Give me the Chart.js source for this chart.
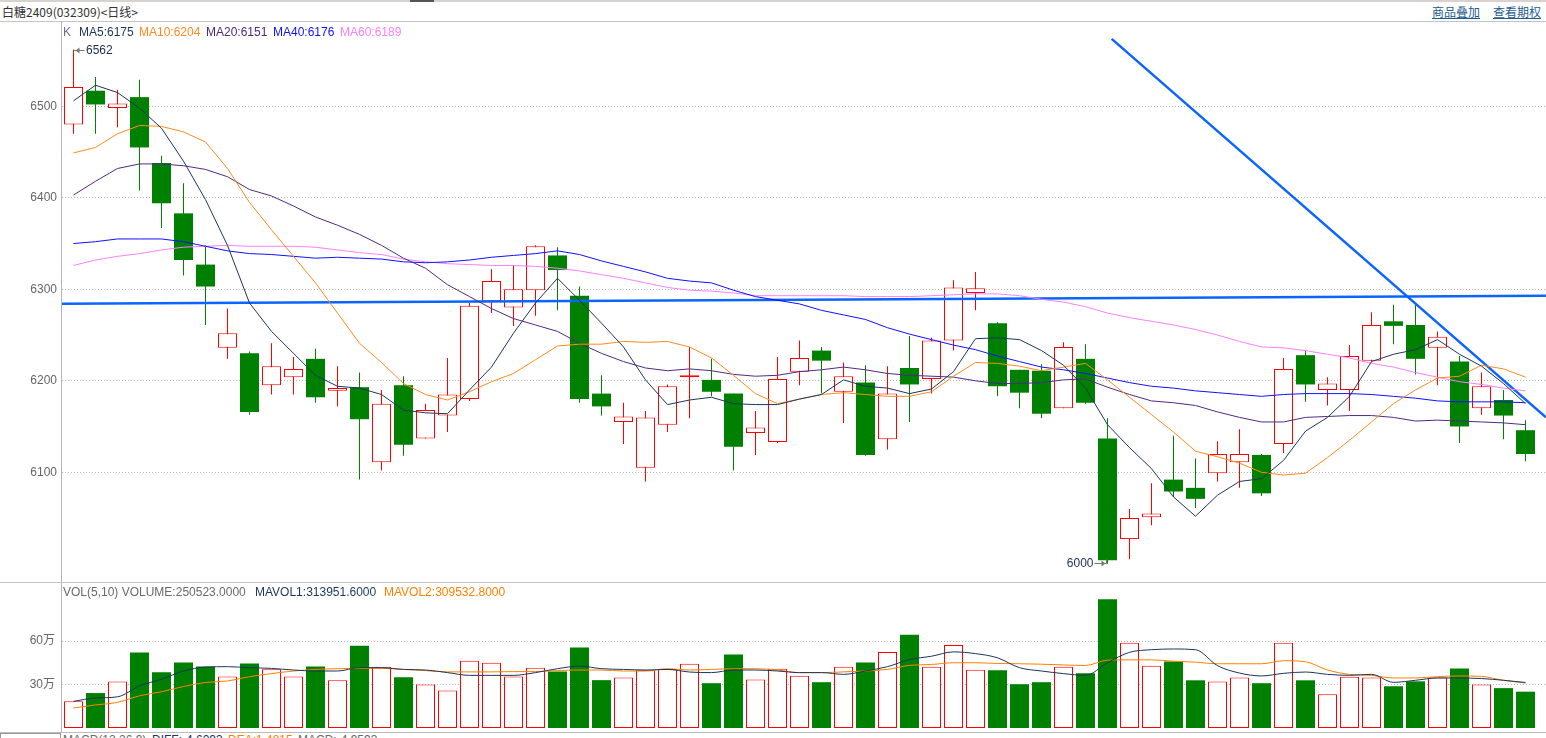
<!DOCTYPE html>
<html>
<head>
<meta charset="utf-8">
<title>白糖2409 日线</title>
<script src="https://cdn.jsdelivr.net/npm/chart.js@4.4.1/dist/chart.umd.min.js"></script>
<style>
html, body { margin: 0; padding: 0; background: #fff; }
body { width: 1546px; height: 738px; overflow: hidden; position: relative;
       font-family: "Liberation Sans", Arial, sans-serif; font-size: 12px; }
.txt { position: absolute; white-space: nowrap; line-height: 14px; }
.hline { position: absolute; left: 0; width: 1546px; height: 1px; background: #c4c4c4; z-index: 5; }
.link { color: #1f5c8f; text-decoration: underline; font-family: "Noto Sans CJK SC", sans-serif; }
canvas { position: absolute; left: 0; }
</style>
</head>
<body>

<!-- header -->
<div class="hline" style="top:0;height:2px;background:#d6d3ce"></div>
<div style="position:absolute;top:0;left:410px;width:24px;height:2px;background:#555;z-index:6"></div>
<div class="txt" style="left:2px;top:5px;color:#333;font-family:'Noto Sans CJK SC',sans-serif">白糖2409(032309)&lt;日线&gt;</div>
<div class="txt link" style="left:1432px;top:5px">商品叠加</div>
<div class="txt link" style="left:1493px;top:5px">查看期权</div>
<div class="hline" style="top:21px"></div>

<!-- charts -->
<canvas id="kChart" width="1546" height="559" style="top:22px"></canvas>
<canvas id="volChart" width="1546" height="145" style="top:583px"></canvas>

<!-- MA legend -->
<div class="txt" style="left:63px;top:25px;color:#66708a">K</div>
<div class="txt" style="left:79px;top:25px;color:#1c355e">MA5:6175</div>
<div class="txt" style="left:139px;top:25px;color:#ff8a1e">MA10:6204</div>
<div class="txt" style="left:206px;top:25px;color:#4a2a80">MA20:6151</div>
<div class="txt" style="left:273px;top:25px;color:#1010ff">MA40:6176</div>
<div class="txt" style="left:340px;top:25px;color:#ff7fff">MA60:6189</div>

<!-- panel borders -->
<div style="position:absolute;left:61px;top:22px;width:1px;height:710px;background:#b4b4b4;z-index:5"></div>
<div class="hline" style="top:582px"></div>
<div class="hline" style="top:732px;background:#bbb"></div>
<div style="position:absolute;left:0;top:733px;width:59px;height:10px;border:1px solid #999;z-index:5"></div>

<!-- volume legend -->
<div class="txt" style="left:63px;top:585px;color:#6a6a6a">VOL(5,10) VOLUME:250523.0000</div>
<div class="txt" style="left:255px;top:585px;color:#1c355e">MAVOL1:313951.6000</div>
<div class="txt" style="left:384px;top:585px;color:#ff8000">MAVOL2:309532.8000</div>

<!-- next panel legend, cut by the window -->
<div class="txt" style="left:63px;top:733px;color:#6a6a6a">MACD(12,26,9)</div>
<div class="txt" style="left:152px;top:733px;color:#1c355e">DIFF:-4.6093</div>
<div class="txt" style="left:228px;top:733px;color:#ff8000">DEA:1.4815</div>
<div class="txt" style="left:298px;top:733px;color:#6a6a6a">MACD:-4.9593</div>

<script>
// daily OHLC, oldest first
const opens = [6480, 6517, 6498, 6510, 6438, 6383, 6327, 6236, 6230, 6195,
               6204, 6224, 6189, 6193, 6111, 6195, 6137, 6162, 6180, 6287,
               6280, 6299, 6337, 6293, 6186, 6155, 6105, 6152, 6204, 6201,
               6186, 6143, 6133, 6210, 6233, 6188, 6198, 6136, 6214, 6202,
               6244, 6296, 6263, 6212, 6211, 6170, 6224, 6137, 6027, 6051,
               6092, 6083, 6099, 6111, 6119, 6131, 6228, 6190, 6190, 6222,
               6265, 6261, 6236, 6221, 6170, 6179, 6146];
const highs = [6562, 6532, 6518, 6529, 6446, 6416, 6348, 6279, 6232, 6241,
               6226, 6235, 6216, 6209, 6190, 6205, 6175, 6225, 6285, 6322,
               6326, 6348, 6346, 6303, 6206, 6176, 6167, 6196, 6237, 6224,
               6186, 6167, 6226, 6244, 6237, 6220, 6217, 6216, 6249, 6247,
               6310, 6319, 6264, 6212, 6218, 6242, 6240, 6159, 6060, 6088,
               6140, 6115, 6134, 6147, 6120, 6225, 6233, 6204, 6239, 6275,
               6283, 6283, 6254, 6227, 6209, 6190, 6157];
const lows = [6470, 6470, 6477, 6408, 6367, 6315, 6261, 6224, 6163, 6185,
              6185, 6176, 6172, 6092, 6102, 6118, 6137, 6144, 6178, 6274,
              6260, 6271, 6277, 6176, 6162, 6131, 6090, 6144, 6159, 6183,
              6102, 6119, 6132, 6195, 6186, 6154, 6118, 6125, 6155, 6186,
              6233, 6277, 6183, 6170, 6159, 6170, 6175, 6000, 6005, 6042,
              6073, 6061, 6090, 6083, 6074, 6121, 6177, 6173, 6167, 6221,
              6240, 6207, 6195, 6132, 6163, 6136, 6112];
const closes = [6521, 6502, 6503, 6455, 6394, 6332, 6303, 6252, 6166, 6216,
                6213, 6182, 6192, 6158, 6175, 6130, 6168, 6185, 6282, 6309,
                6300, 6347, 6321, 6180, 6172, 6161, 6160, 6194, 6206, 6188,
                6128, 6149, 6202, 6225, 6222, 6205, 6119, 6186, 6196, 6244,
                6302, 6301, 6194, 6187, 6164, 6237, 6176, 6004, 6050, 6055,
                6079, 6071, 6120, 6120, 6077, 6213, 6196, 6197, 6227, 6261,
                6260, 6224, 6248, 6150, 6194, 6162, 6120];

// moving averages as shown on the chart
const ma5 = [6506, 6523, 6515, 6498, 6476, 6440, 6398, 6348, 6285, 6254,
             6230, 6206, 6194, 6192, 6185, 6168, 6165, 6164, 6190, 6215,
             6252, 6285, 6312, 6288, 6263, 6237, 6201, 6174, 6179, 6182,
             6175, 6174, 6174, 6180, 6185, 6201, 6194, 6192, 6186, 6191,
             6210, 6246, 6247, 6245, 6233, 6217, 6192, 6152, 6127, 6104,
             6073, 6052, 6075, 6090, 6093, 6113, 6145, 6160, 6183, 6221,
             6229, 6234, 6245, 6229, 6216, 6197, 6175];
const ma10 = [6449, 6455, 6470, 6479, 6478, 6472, 6461, 6432, 6395, 6365,
              6336, 6307, 6274, 6241, 6220, 6197, 6185, 6179, 6188, 6199,
              6208, 6223, 6238, 6240, 6240, 6243, 6242, 6243, 6237, 6225,
              6206, 6186, 6175, 6180, 6185, 6187, 6185, 6183, 6183, 6188,
              6205, 6220, 6219, 6216, 6211, 6215, 6219, 6201, 6182, 6163,
              6144, 6123, 6117, 6110, 6100, 6097, 6099, 6116, 6135, 6155,
              6175, 6190, 6203, 6205, 6217, 6213, 6204];
const ma20 = [6403, 6418, 6432, 6437, 6437, 6435, 6431, 6423, 6409, 6402,
              6391, 6379, 6370, 6360, 6348, 6334, 6323, 6305, 6292, 6279,
              6268, 6261, 6254, 6241, 6230, 6221, 6214, 6211, 6213, 6211,
              6207, 6205, 6206, 6210, 6212, 6215, 6212, 6208, 6206, 6205,
              6204, 6200, 6197, 6197, 6198, 6201, 6202, 6193, 6185, 6178,
              6176, 6173, 6166, 6160, 6155, 6155, 6160, 6161, 6162, 6162,
              6160, 6156, 6157, 6156, 6155, 6154, 6152];
const ma40 = [6350, 6352, 6355, 6355, 6355, 6352, 6347, 6342, 6339, 6338,
              6336, 6334, 6335, 6334, 6333, 6330, 6329, 6330, 6332, 6335,
              6337, 6339, 6342, 6338, 6331, 6325, 6319, 6312, 6309, 6307,
              6299, 6292, 6288, 6284, 6277, 6272, 6267, 6258, 6251, 6245,
              6239, 6234, 6227, 6221, 6215, 6212, 6208, 6203, 6198, 6194,
              6192, 6189, 6187, 6185, 6183, 6185, 6186, 6186, 6186, 6185,
              6183, 6181, 6178, 6177, 6177, 6177, 6176];
const ma60 = [6326, 6332, 6336, 6339, 6343, 6346, 6347, 6348, 6347, 6347,
              6347, 6346, 6343, 6340, 6338, 6333, 6330, 6328, 6327, 6326,
              6326, 6325, 6323, 6320, 6316, 6312, 6307, 6302, 6299, 6298,
              6296, 6293, 6293, 6293, 6293, 6293, 6292, 6292, 6292, 6293,
              6294, 6295, 6295, 6293, 6289, 6286, 6281, 6274, 6269, 6265,
              6261, 6256, 6250, 6243, 6237, 6236, 6233, 6229, 6225, 6219,
              6215, 6209, 6204, 6199, 6196, 6192, 6189];

// volume in 万 (10k lots)
const volume = [18.4, 24.1, 32.0, 52.0, 38.4, 45.2, 42.5, 35.5, 44.5, 40.5,
                35.5, 42.5, 33.0, 56.8, 42.3, 35.0, 30.0, 25.9, 46.4, 45.0,
                35.5, 41.5, 39.0, 55.5, 33.0, 34.8, 39.8, 40.7, 44.3, 30.9,
                50.7, 33.4, 40.9, 36.1, 31.6, 42.3, 45.2, 52.5, 64.3, 42.3,
                57.3, 40.2, 39.8, 30.2, 31.6, 42.2, 37.7, 88.8, 58.8, 42.9,
                45.9, 32.9, 32.0, 34.8, 30.9, 58.8, 32.9, 23.2, 35.4, 34.8,
                28.8, 32.2, 34.8, 41.1, 30.0, 27.5, 25.05];
const mavol1 = [18.4, 20.7, 21.5, 29.0, 33.6, 39.3, 42.0, 42.3, 41.6, 41.1,
                40.0, 39.3, 39.3, 41.6, 41.6, 40.4, 40.0, 38.2, 36.3, 36.3,
                36.3, 38.2, 40.9, 42.7, 40.9, 40.4, 40.0, 40.4, 38.6, 38.2,
                40.0, 40.0, 39.3, 38.2, 38.2, 37.0, 39.3, 42.3, 47.2, 49.5,
                52.5, 51.3, 48.4, 41.6, 39.3, 37.5, 36.3, 45.0, 52.2, 54.0,
                54.5, 54.0, 43.0, 37.9, 35.9, 37.7, 38.6, 37.0, 36.3, 37.0,
                31.5, 32.9, 34.5, 34.5, 34.1, 32.9, 31.4];
const mavol2 = [13.8, 15.9, 17.7, 22.2, 25.0, 28.6, 31.4, 32.4, 35.4, 37.5,
                39.3, 40.4, 40.9, 41.1, 41.1, 40.4, 39.6, 38.7, 38.7, 38.7,
                38.9, 38.9, 39.6, 40.0, 40.0, 39.3, 39.3, 40.9, 40.0, 40.4,
                40.9, 40.9, 40.0, 38.2, 38.2, 38.7, 39.3, 40.4, 43.2, 43.8,
                45.0, 45.0, 44.5, 44.3, 44.0, 43.5, 43.1, 46.8, 47.0, 47.0,
                46.1, 45.4, 44.3, 44.3, 44.3, 46.4, 45.7, 40.0, 37.0, 36.3,
                34.5, 34.5, 35.4, 35.9, 35.6, 32.9, 31.0];

// hand-drawn lines on the chart, [bar index, price]
const levelLine = [[-0.52, 6284.3], [66.93, 6292.8]];
const trendLine = [[47.19, 6573.6], [66.93, 6160]];

const priceTicks = [6100, 6200, 6300, 6400, 6500];
const volTicks = [30, 60];

const UP = '#ff0000';
const DOWN = '#008000';
const FONT = '"Liberation Sans", "Noto Sans CJK SC", sans-serif';

const idx = opens.map((_, i) => i);
const isUp = idx.map(i => closes[i] >= opens[i]);
const pts = arr => arr.map((v, i) => ({ x: i, y: v }));

// same horizontal mapping for both panels: 22px per bar
const xScale = { type: 'linear', min: -0.5227, max: 66.9318, display: false, offset: false };

function maLine(data, color) {
    return {
        type: 'line', data: pts(data), borderColor: color, borderWidth: 1,
        pointRadius: 0, tension: 0, order: 0
    };
}
function drawnLine(coords) {
    return {
        type: 'line', data: coords.map(c => ({ x: c[0], y: c[1] })),
        borderColor: '#0a64ff', borderWidth: 2.5, pointRadius: 0, order: 0
    };
}

// high / low price markers
const markPlugin = {
    id: 'hiLoMarks',
    afterDatasetsDraw(chart) {
        const { ctx, scales: { x, y } } = chart;
        const hi = Math.max(...highs), hiI = highs.indexOf(hi);
        const lo = Math.min(...lows), loI = lows.indexOf(lo);
        ctx.save();
        ctx.font = '12px ' + FONT;
        ctx.textBaseline = 'middle';
        ctx.strokeStyle = '#777';
        ctx.fillStyle = '#777';
        ctx.lineWidth = 1;

        let px = x.getPixelForValue(hiI);
        let py = Math.round(y.getPixelForValue(hi)) + 0.5;
        ctx.beginPath();
        ctx.moveTo(px, py); ctx.lineTo(px + 11, py);
        ctx.stroke();
        ctx.beginPath();
        ctx.moveTo(px + 2, py); ctx.lineTo(px + 6, py - 3); ctx.lineTo(px + 6, py + 3);
        ctx.fill();
        ctx.fillStyle = '#1b2d4f';
        ctx.textAlign = 'left';
        ctx.fillText(String(hi), px + 12.5, py);

        px = x.getPixelForValue(loI);
        py = Math.round(y.getPixelForValue(lo)) - 0.5;
        ctx.fillStyle = '#777';
        ctx.beginPath();
        ctx.moveTo(px - 13, py); ctx.lineTo(px - 1, py); ctx.lineTo(px - 1, py - 4);
        ctx.stroke();
        ctx.beginPath();
        ctx.moveTo(px - 2, py); ctx.lineTo(px - 6, py - 3); ctx.lineTo(px - 6, py + 3);
        ctx.fill();
        ctx.fillStyle = '#1b2d4f';
        ctx.textAlign = 'right';
        ctx.fillText(String(lo), px - 14, py);
        ctx.restore();
    }
};

const baseOptions = {
    responsive: false,
    animation: false,
    events: [],
    layout: { padding: 0, autoPadding: false },
    plugins: { legend: { display: false }, tooltip: { enabled: false } }
};

new Chart(document.getElementById('kChart'), {
    type: 'bar',
    data: {
        datasets: [
            maLine(ma5, '#1c355e'),
            maLine(ma10, '#ff8a1e'),
            maLine(ma20, '#4f2a85'),
            maLine(ma40, '#1010ff'),
            maLine(ma60, '#ff7fff'),
            drawnLine(levelLine),
            drawnLine(trendLine),
            {
                // candle bodies
                type: 'bar', order: 1, grouped: false,
                data: idx.map(i => ({ x: i, y: [opens[i], closes[i]] })),
                backgroundColor: idx.map(i => isUp[i] ? '#ffffff' : DOWN),
                borderColor: idx.map(i => isUp[i] ? UP : DOWN),
                borderWidth: idx.map(i => isUp[i] ? 1 : 0),
                borderSkipped: false, barThickness: 19, inflateAmount: 0
            },
            {
                // wicks
                type: 'bar', order: 2, grouped: false,
                data: idx.map(i => ({ x: i, y: [lows[i], highs[i]] })),
                backgroundColor: idx.map(i => isUp[i] ? UP : DOWN),
                borderWidth: 0, barThickness: 1, inflateAmount: 0
            }
        ]
    },
    options: {
        ...baseOptions,
        scales: {
            x: xScale,
            y: {
                min: 5981.2, max: 6592.1,
                afterFit(s) { s.width = 62; s.paddingTop = 0; s.paddingBottom = 0; },
                afterBuildTicks(s) { s.ticks = priceTicks.map(v => ({ value: v })); },
                grid: { color: '#b4b4b4', drawTicks: false, lineWidth: 1 },
                border: { display: false, dash: [1, 2] },
                ticks: { padding: 5, color: '#666', font: { family: FONT, size: 12 }, callback: v => String(v) }
            }
        }
    },
    plugins: [markPlugin]
});

new Chart(document.getElementById('volChart'), {
    type: 'bar',
    data: {
        datasets: [
            {
                type: 'line', data: pts(mavol1), borderColor: '#1c355e', borderWidth: 1,
                pointRadius: 0, cubicInterpolationMode: 'monotone', order: 0
            },
            {
                type: 'line', data: pts(mavol2), borderColor: '#ff8000', borderWidth: 1,
                pointRadius: 0, cubicInterpolationMode: 'monotone', order: 0
            },
            {
                type: 'bar', order: 1, grouped: false,
                data: idx.map(i => ({ x: i, y: volume[i] })),
                backgroundColor: idx.map(i => isUp[i] ? '#ffffff' : DOWN),
                borderColor: idx.map(i => isUp[i] ? UP : DOWN),
                borderWidth: idx.map(i => isUp[i] ? 1 : 0),
                borderSkipped: false, barThickness: 19, inflateAmount: 0
            }
        ]
    },
    options: {
        ...baseOptions,
        scales: {
            x: xScale,
            y: {
                min: 0, max: 100,
                afterFit(s) { s.width = 62; s.paddingTop = 0; s.paddingBottom = 0; },
                afterBuildTicks(s) { s.ticks = volTicks.map(v => ({ value: v })); },
                grid: { color: '#b4b4b4', drawTicks: false, lineWidth: 1 },
                border: { display: false, dash: [1, 2] },
                ticks: { padding: 7, color: '#666', font: { family: FONT, size: 12 }, callback: v => v + '万' }
            }
        }
    }
});
</script>
</body>
</html>
